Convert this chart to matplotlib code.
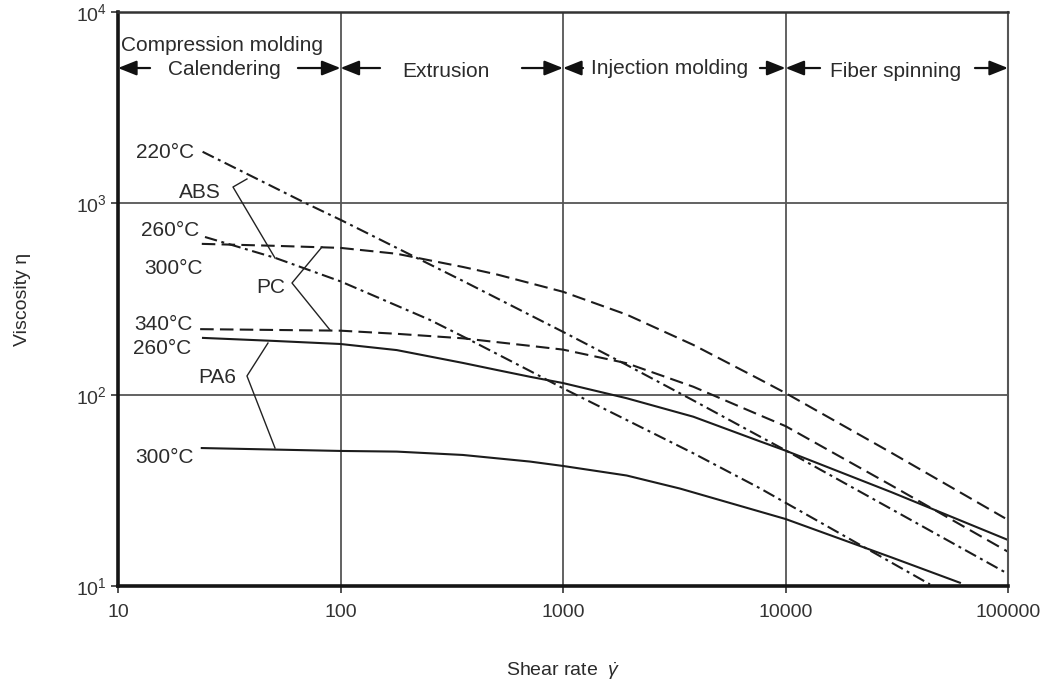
import matplotlib
matplotlib.use('Agg')
from matplotlib import pyplot as plt

plt.rcParams['font.family'] = ['Liberation Sans', 'DejaVu Sans']
plt.rcParams['mathtext.fontset'] = 'custom'
plt.rcParams['mathtext.rm'] = 'Liberation Sans'
plt.rcParams['mathtext.it'] = 'Liberation Sans:italic'

# values (shear rate, viscosity)
abs220_x = [24, 70, 100, 355, 1000, 1933, 3852, 7681, 10000, 97000]
abs220_y = [1860, 1000, 820, 393, 213, 143, 93.3, 60.4, 51.2, 11.8]

abs300_x = [24.6, 50.8, 100, 252, 382, 711, 1000, 1933, 3852, 7681, 44600]
abs300_y = [667, 519, 391, 246, 193, 133, 108, 73.7, 49.4, 32.4, 10.2]

pc260_x = [23.8, 50, 100, 179, 355, 504, 1000, 1933, 3852, 7681, 10000, 30000, 97000]
pc260_y = [614, 600, 585, 545, 465, 425, 345, 262, 182, 120, 102, 49.6, 22.6]

pc340_x = [23.4, 100, 179, 355, 711, 1000, 1933, 3852, 7681, 10000, 30000, 100000]
pc340_y = [220, 216, 208, 197, 180, 172, 146, 110, 78, 68.5, 33.5, 15.1]

pa6_260_x = [24.1, 50, 100, 179, 355, 504, 711, 1000, 1933, 3852, 7681, 10000, 30000, 100000]
pa6_260_y = [198, 191, 184, 171, 146.5, 134.6, 124, 115, 95.8, 76.7, 57, 51, 30.9, 17.4]

pa6_300_x = [23.8, 100, 179, 355, 711, 1000, 1933, 3357, 10000, 30000, 60800]
pa6_300_y = [52.6, 50.8, 50.4, 48.4, 44.7, 42.4, 37.8, 32.3, 22.4, 14.1, 10.4]

x_ticks = [10, 100, 1000, 10000, 100000]
x_tick_labels = ['10', '100', '1000', '10000', '100000']
y_ticks = [10, 100, 1000, 10000]
y_tick_labels = ['$10^{1}$', '$10^{2}$', '$10^{3}$', '$10^{4}$']

processes = ['Calendering', 'Extrusion', 'Injection molding', 'Fiber spinning']

line_col = '#1c1c1c'
text_col = '#2b2b2b'
dashed = (0, (6.5, 3))
dashdot = (0, (6, 2.2, 1.4, 2.2))

fig = plt.figure(figsize=(10.46, 6.81), dpi=100)
ax = fig.add_axes([118 / 1046, 95 / 681, 890 / 1046, 574 / 681])
ax.set_xscale('log')
ax.set_yscale('log')
ax.set_xlim(10, 100000)
ax.set_ylim(10, 10000)

ax.plot(abs220_x, abs220_y, color=line_col, lw=1.5, ls=dashdot)
ax.plot(abs300_x, abs300_y, color=line_col, lw=1.5, ls=dashdot)
ax.plot(pc260_x, pc260_y, color=line_col, lw=1.5, ls=dashed)
ax.plot(pc340_x, pc340_y, color=line_col, lw=1.5, ls=dashed)
ax.plot(pa6_260_x, pa6_260_y, color=line_col, lw=1.5)
ax.plot(pa6_300_x, pa6_300_y, color=line_col, lw=1.5)

ax.set_xticks(x_ticks)
ax.set_xticklabels(x_tick_labels)
ax.set_yticks(y_ticks)
ax.set_yticklabels(y_tick_labels)
ax.minorticks_off()
ax.tick_params(axis='x', length=5, width=1.2, pad=8, labelsize=14, colors='#333333')
ax.tick_params(axis='y', length=5, width=1.2, pad=3, labelsize=14, colors='#333333')
ax.grid(True, color='#555555', lw=1.3)

for side, w, c in [('left', 2.6, '#151515'), ('bottom', 2.6, '#151515'),
                   ('top', 1.8, '#333333'), ('right', 1.5, '#555555')]:
    ax.spines[side].set_linewidth(w)
    ax.spines[side].set_color(c)

ax.set_xlabel(r'Shear rate  $\dot{\gamma}$', fontsize=14, color=text_col, labelpad=28)
ax.set_ylabel('Viscosity η', fontsize=14, color=text_col, labelpad=32)

# process ranges across the top
tf = ax.transAxes
ax.text(0.003, 0.9425, 'Compression molding', transform=tf, fontsize=15,
        ha='left', va='center', color=text_col)
label_x = [0.1191, 0.3685, 0.6202, 0.8742]
label_y = [0.899, 0.8955, 0.9024, 0.8972]
for i, name in enumerate(processes):
    ax.text(label_x[i], label_y[i], name, transform=tf, fontsize=15,
            ha='center', va='center', color=text_col)

arrow_tails = [0.036, 0.2022, 0.2944, 0.4539, 0.5225, 0.7213, 0.7888, 0.9629]
arrow_heads = [0.0, 0.25, 0.25, 0.5, 0.5, 0.75, 0.75, 1.0]
for t, h in zip(arrow_tails, arrow_heads):
    ax.annotate('', xy=(h, 0.9024), xytext=(t, 0.9024), xycoords=tf, textcoords=tf,
                arrowprops=dict(arrowstyle='-|>,head_length=0.8,head_width=0.32',
                                color='#111111', lw=1.6, mutation_scale=14,
                                shrinkA=0, shrinkB=0))

# temperature labels
temps = ['220°C', '260°C', '300°C', '340°C', '260°C', '300°C']
temp_x = [0.0854, 0.0910, 0.0955, 0.0843, 0.0820, 0.0854]
temp_y = [0.7544, 0.6202, 0.5540, 0.4564, 0.4146, 0.2230]
for s, tx, ty in zip(temps, temp_x, temp_y):
    ax.text(tx, ty, s, transform=tf, fontsize=15, ha='right', va='center', color=text_col)

materials = ['ABS', 'PC', 'PA6']
mat_x = [0.0921, 0.1719, 0.1112]
mat_y = [0.6864, 0.5209, 0.3624]
leaders = [
    ([0.1449, 0.1292, 0.1764], [0.7091, 0.6951, 0.5714]),
    ([0.2292, 0.1955, 0.2382], [0.5906, 0.5279, 0.4460]),
    ([0.1685, 0.1449, 0.1764], [0.4233, 0.3659, 0.2404]),
]
for m, mx, my, (lx, ly) in zip(materials, mat_x, mat_y, leaders):
    ax.text(mx, my, m, transform=tf, fontsize=15, ha='center', va='center', color=text_col)
    ax.plot(lx, ly, transform=tf, color='#222222', lw=1.0)

plt.savefig('out.png', dpi=100)
